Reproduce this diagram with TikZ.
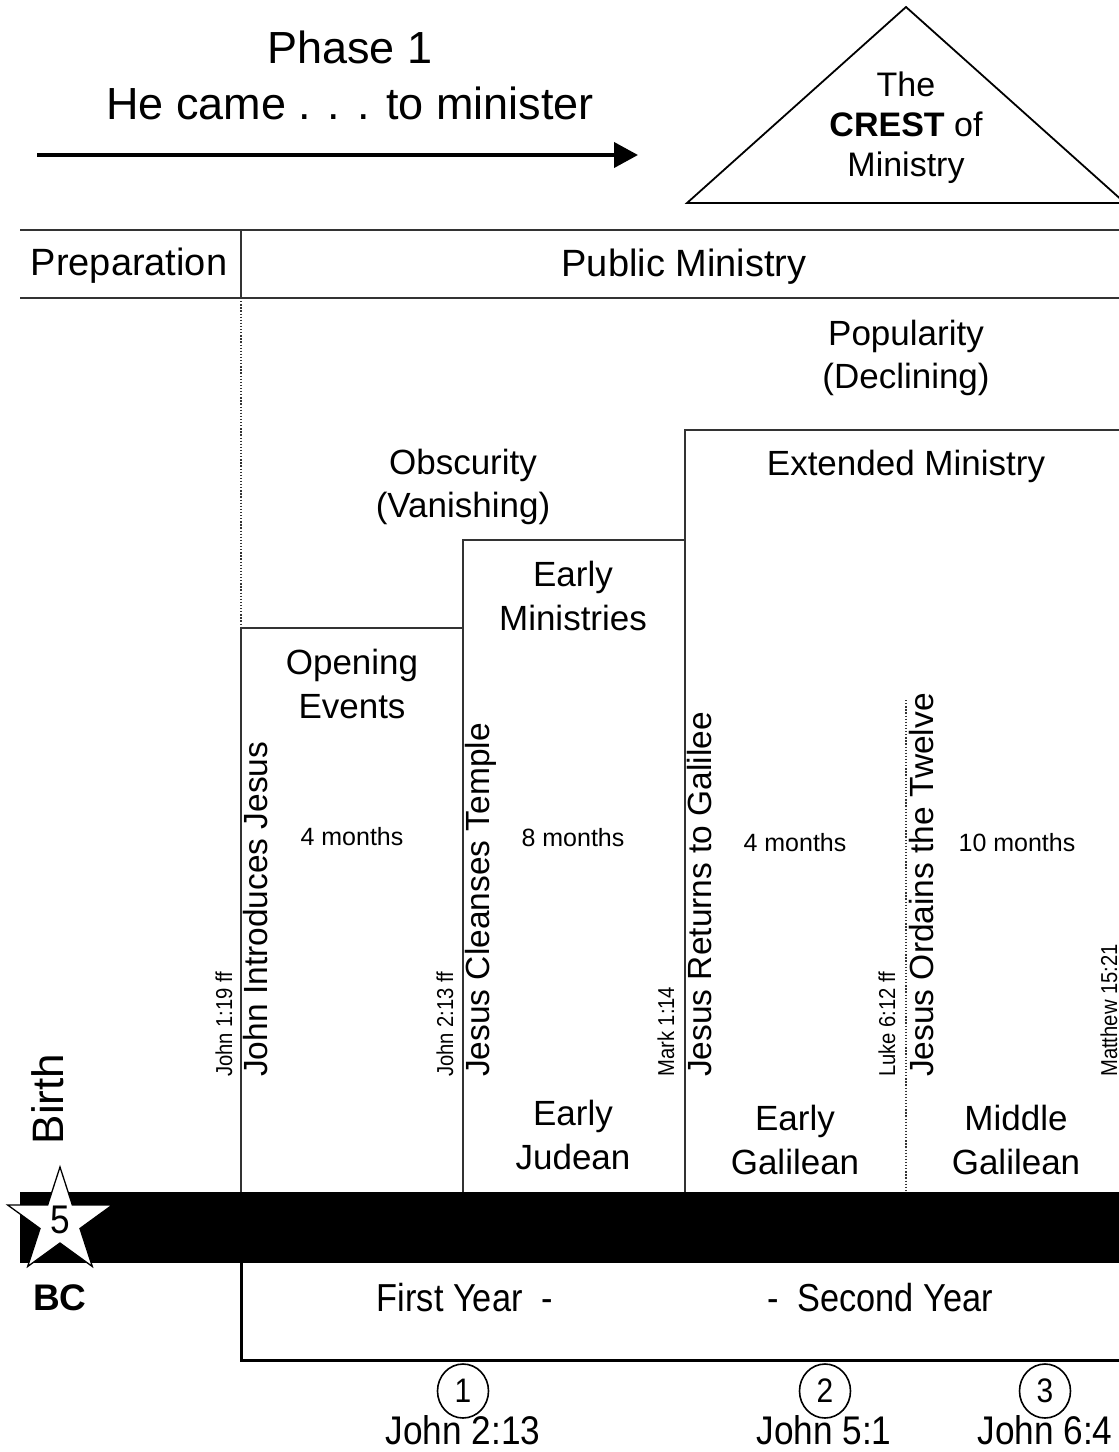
\documentclass[tikz,border=0pt]{standalone}
\usepackage{fontspec}
\setmainfont{Liberation Sans}
\newfontfamily\narrowsans[FakeStretch=0.88]{Liberation Sans}
\usetikzlibrary{arrows.meta,shapes.geometric}
\newcommand\fsz[2]{\fontsize{#1}{#2}\selectfont}
\begin{document}
\begin{tikzpicture}[x=1pt,y=-1pt,
  rule/.style={line width=1.3pt, draw=black!80},
  dotline/.style={line width=1.2pt, draw=black!80, dash pattern=on 1.3pt off 1.8pt},
  txt/.style={inner sep=0pt, align=center, font=\fsz{35}{43.5}},
  hdr/.style={inner sep=0pt, align=center, font=\fsz{38}{45}},
  months/.style={inner sep=0pt, font=\fsz{25}{30}},
  bigv/.style={inner sep=0pt, rotate=90, anchor=base west, font=\fsz{33.5}{40}},
  smallv/.style={inner sep=0pt, rotate=90, anchor=base west, font=\narrowsans\fsz{23}{27}},
  num/.style={draw, line width=1.6pt, ellipse, minimum width=51pt, minimum height=54pt, inner sep=0pt, font=\narrowsans\fsz{34}{36}},
  refl/.style={inner sep=0pt, font=\narrowsans\fsz{40}{44}},
  yearl/.style={inner sep=0pt, font=\narrowsans\fsz{39}{44}},
]
\useasboundingbox (0,0) rectangle (1119,1452);
\fill[white] (0,0) rectangle (1119,1452);

% title and arrow
\node[inner sep=0pt, align=center, font=\fsz{45}{56}] (phase) at (350,75) {Phase 1\\He came . . . to minister};
\coordinate (arS) at (37,155);
\coordinate (arE) at (638,155);
\draw[line width=4pt, -{Triangle[length=24pt,width=25pt]}] (arS) -- (arE);

% crest triangle
\coordinate (tL) at (687,203);
\coordinate (tT) at (906,7);
\coordinate (tR) at (1125,203);
\draw[line width=1.8pt, line join=miter] (tL) -- (tT) -- (tR) -- cycle;
\node[inner sep=0pt, align=center, font=\fsz{34}{40}] (crest) at (906,128) {The\\\textbf{CREST} of\\Ministry};

% header table
\coordinate (h1L) at (20,230); \coordinate (h1R) at (1125,230);
\coordinate (h2L) at (20,298); \coordinate (h2R) at (1125,298);
\coordinate (hv1) at (241,230); \coordinate (hv2) at (241,298);
\draw[rule] (h1L) -- (h1R);
\draw[rule] (h2L) -- (h2R);
\draw[rule] (hv1) -- (hv2);
\node[hdr] (prep) at (129,266) {Preparation};
\node[hdr] (pubmin) at (684,267) {Public Ministry};

% phase boxes
\coordinate (d1) at (241,628);
\draw[dotline] (hv2) -- (d1);
\coordinate (b1T) at (463,628);
\coordinate (b1B) at (241,1192);
\draw[rule] (b1B) -- (d1) -- (b1T);
\coordinate (b2L) at (463,540);
\coordinate (b2R) at (685,540);
\coordinate (b2B) at (463,1192);
\draw[rule] (b2B) -- (b2L) -- (b2R);
\coordinate (b3L) at (685,430);
\coordinate (b3R) at (1125,430);
\coordinate (b3B) at (685,1192);
\draw[rule] (b3B) -- (b3L) -- (b3R);
\coordinate (dotT) at (906,700);
\coordinate (dotB) at (906,1192);
\draw[dotline] (dotT) -- (dotB);

\node[txt] (popul) at (906,358) {Popularity\\(Declining)};
\node[txt] (obsc) at (463,487) {Obscurity\\(Vanishing)};
\node[txt] (ext) at (906,466) {Extended Ministry};
\node[txt] (earlymin) at (573,596) {Early\\Ministries};
\node[txt] (opening) at (352,684) {Opening\\Events};

\node[months] (m1) at (352,837) {4 months};
\node[months] (m2) at (573,838) {8 months};
\node[months] (m3) at (795,843) {4 months};
\node[months] (m4) at (1017,843) {10 months};

\node[txt] (ejud) at (573,1135) {Early\\Judean};
\node[txt] (egal) at (795,1140) {Early\\Galilean};
\node[txt] (mgal) at (1016,1140) {Middle\\Galilean};

% vertical labels
\node[smallv] (r1) at (232,1077) {John 1:19 ff};
\node[bigv] (v1) at (267,1077) {John Introduces Jesus};
\node[smallv] (r2) at (453,1077) {John 2:13 ff};
\node[bigv] (v2) at (489,1077) {Jesus Cleanses Temple};
\node[smallv] (r3) at (674,1077) {Mark 1:14};
\node[bigv] (v3) at (711,1077) {Jesus Returns to Galilee};
\node[smallv] (r4) at (895,1077) {Luke 6:12 ff};
\node[bigv] (v4) at (933,1077) {Jesus Ordains the Twelve};
\node[smallv] (r5) at (1117,1077) {Matthew 15:21};

\node[inner sep=0pt, rotate=90, anchor=base, font=\fsz{44}{50}] (birth) at (63,1099) {Birth};

% timeline bar
\fill[black] (20,1192) rectangle (1125,1263);
\draw[line width=1.3pt, fill=white, line join=miter, shift={(60,1222)}]
  (270:55) -- (306:21) -- (342:55) -- (18:21) -- (54:55) -- (90:21)
  -- (126:55) -- (162:21) -- (198:55) -- (234:21) -- cycle;
\node[inner sep=0pt, font=\narrowsans\fsz{40}{44}] (five) at (60,1220) {5};
\node[inner sep=0pt, font=\fsz{37}{40}\bfseries] (bc) at (60,1298) {BC};

% year box
\coordinate (yTop) at (241,1263);
\coordinate (yCorner) at (241,1360);
\coordinate (yRight) at (1125,1360);
\draw[line width=3pt, line join=miter] (yTop) -- (yCorner) -- (yRight);
\node[yearl] (fy) at (465,1298) {First Year\ \ -};
\node[yearl] (sy) at (880,1298) {-\ \ Second Year};

% passovers
\node[num] (c1) at (463,1391) {1};
\node[num] (c2) at (825,1391) {2};
\node[num] (c3) at (1045,1391) {3};
\node[refl] (j1) at (463,1430) {John 2:13};
\node[refl] (j2) at (824,1430) {John 5:1};
\node[refl] (j3) at (1045,1430) {John 6:4};
\end{tikzpicture}
\end{document}
